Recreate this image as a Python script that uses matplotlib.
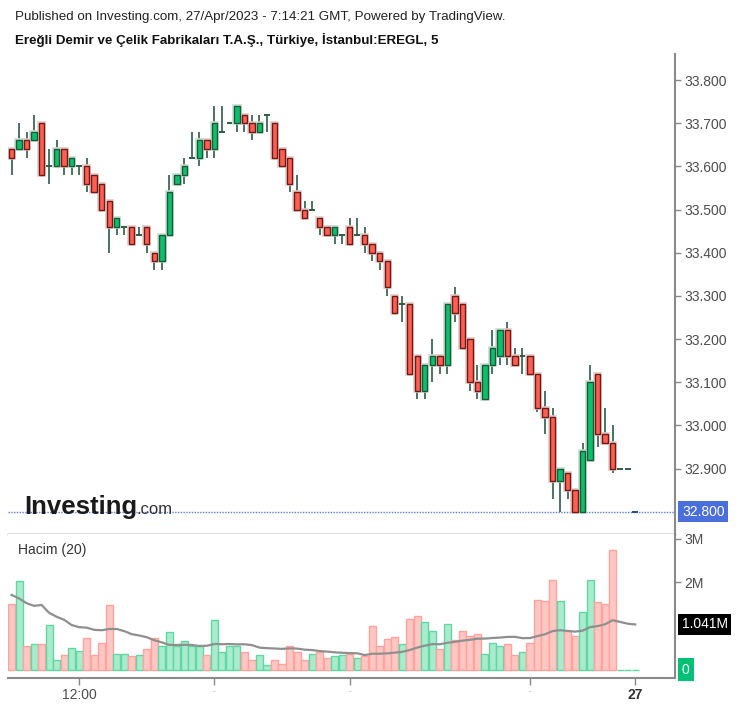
import matplotlib
matplotlib.use('Agg')
import matplotlib.pyplot as plt
import pandas as pd

plt.rcParams['font.family'] = ['Liberation Sans', 'DejaVu Sans']

# 5 dakikalik mumlar (acilis, yuksek, dusuk, kapanis)
opens = [33.64, 33.64, 33.66, 33.66, 33.70, 33.60, 33.60, 33.64, 33.60, 33.60,
         33.60, 33.58, 33.56, 33.52, 33.46, 33.46, 33.46, 33.44, 33.46, 33.40,
         33.38, 33.44, 33.56, 33.58, 33.62, 33.62, 33.66, 33.64, 33.68, 33.70,
         33.70, 33.72, 33.70, 33.68, 33.72, 33.70, 33.64, 33.62, 33.54, 33.50,
         33.50, 33.48, 33.46, 33.44, 33.44, 33.46, 33.44, 33.44, 33.42, 33.40,
         33.38, 33.30, 33.28, 33.28, 33.16, 33.08, 33.14, 33.16, 33.14, 33.30,
         33.28, 33.20, 33.10, 33.06, 33.14, 33.16, 33.22, 33.16, 33.16, 33.16,
         33.12, 33.04, 33.02, 32.87, 32.89, 32.85, 32.80, 32.92, 33.12, 32.98,
         32.96, 32.90, 32.90, 32.80]
highs = [33.64, 33.70, 33.68, 33.72, 33.70, 33.64, 33.66, 33.64, 33.62, 33.60,
         33.62, 33.58, 33.56, 33.52, 33.48, 33.46, 33.46, 33.46, 33.46, 33.40,
         33.44, 33.58, 33.58, 33.62, 33.68, 33.68, 33.66, 33.74, 33.74, 33.70,
         33.74, 33.72, 33.72, 33.72, 33.72, 33.70, 33.64, 33.62, 33.58, 33.52,
         33.52, 33.48, 33.46, 33.46, 33.44, 33.48, 33.48, 33.46, 33.42, 33.40,
         33.38, 33.30, 33.30, 33.28, 33.16, 33.14, 33.20, 33.16, 33.28, 33.32,
         33.28, 33.20, 33.14, 33.14, 33.22, 33.22, 33.24, 33.18, 33.18, 33.16,
         33.12, 33.08, 33.04, 32.90, 32.89, 32.85, 32.96, 33.14, 33.12, 33.04,
         33.00, 32.90, 32.90, 32.80]
lows = [33.58, 33.64, 33.62, 33.66, 33.58, 33.56, 33.60, 33.58, 33.58, 33.58,
        33.54, 33.54, 33.50, 33.40, 33.44, 33.44, 33.42, 33.44, 33.40, 33.36,
        33.36, 33.44, 33.56, 33.56, 33.62, 33.60, 33.62, 33.62, 33.68, 33.70,
        33.68, 33.68, 33.66, 33.68, 33.68, 33.62, 33.60, 33.54, 33.50, 33.48,
        33.50, 33.44, 33.44, 33.42, 33.42, 33.42, 33.44, 33.40, 33.38, 33.36,
        33.30, 33.26, 33.24, 33.12, 33.06, 33.06, 33.10, 33.12, 33.12, 33.24,
        33.18, 33.08, 33.06, 33.06, 33.12, 33.14, 33.14, 33.14, 33.12, 33.12,
        33.03, 32.98, 32.83, 32.80, 32.83, 32.80, 32.80, 32.92, 32.95, 32.96,
        32.89, 32.90, 32.90, 32.80]
closes = [33.62, 33.66, 33.64, 33.68, 33.58, 33.60, 33.64, 33.60, 33.62, 33.60,
          33.56, 33.54, 33.50, 33.46, 33.48, 33.46, 33.42, 33.44, 33.42, 33.38,
          33.44, 33.54, 33.58, 33.60, 33.62, 33.66, 33.64, 33.70, 33.68, 33.70,
          33.74, 33.70, 33.68, 33.70, 33.72, 33.62, 33.60, 33.56, 33.50, 33.48,
          33.50, 33.46, 33.44, 33.46, 33.44, 33.42, 33.44, 33.42, 33.40, 33.38,
          33.32, 33.26, 33.28, 33.12, 33.08, 33.14, 33.16, 33.14, 33.28, 33.26,
          33.18, 33.10, 33.08, 33.14, 33.18, 33.22, 33.16, 33.14, 33.16, 33.12,
          33.04, 33.02, 32.87, 32.90, 32.85, 32.80, 32.94, 33.10, 32.98, 32.96,
          32.90, 32.90, 32.90, 32.80]

# hacim (milyon)
volume = [1.51, 2.02, 0.55, 0.58, 0.58, 1.01, 0.22, 0.33, 0.50, 0.42,
          0.73, 0.33, 0.61, 1.48, 0.36, 0.36, 0.30, 0.33, 0.47, 0.73,
          0.53, 0.85, 0.53, 0.65, 0.53, 0.53, 0.33, 1.13, 0.39, 0.55,
          0.53, 0.39, 0.22, 0.33, 0.10, 0.22, 0.13, 0.55, 0.39, 0.22,
          0.36, 0.39, 0.27, 0.32, 0.33, 0.36, 0.27, 0.30, 0.99, 0.55,
          0.70, 0.74, 0.59, 1.16, 1.22, 1.08, 0.88, 0.47, 1.04, 0.68,
          0.88, 0.77, 0.81, 0.36, 0.61, 0.54, 0.58, 0.33, 0.39, 0.61,
          1.59, 1.57, 2.05, 1.57, 0.88, 0.77, 1.33, 2.05, 1.55, 1.50,
          2.74, 0.0, 0.0, 0.0]
# ortalamanin ilk 19 degeri (onceki gunun verisi yok)
ma_head = [1.71, 1.63, 1.52, 1.46, 1.48, 1.30, 1.21, 1.14, 1.02, 0.97,
           0.96, 0.91, 0.90, 0.93, 0.93, 0.88, 0.81, 0.78, 0.74]
ma_last = 1.041
last_price = 32.80

price_ticks = [32.9, 33.0, 33.1, 33.2, 33.3, 33.4, 33.5, 33.6, 33.7, 33.8]
x_tick_pos = [9, 27, 45, 69, 83]
x_tick_lab = ['12:00', '-', '-', '-', '27']

up_body, dn_body = '#0cbf6c', '#ff5f52'
up_edge, dn_edge = '#175c38', '#6e1a16'
wick_c = '#2d5c47'

W, H = 746, 707
fig = plt.figure(figsize=(W / 100, H / 100), dpi=100)


def box(x0, y0, x1, y1):
    return [x0 / W, 1 - y1 / H, (x1 - x0) / W, (y1 - y0) / H]


ax = fig.add_axes(box(8, 54, 675, 534))
axv = fig.add_axes(box(8, 534, 675, 678))

xs = list(range(len(opens)))
up = [c >= o for o, c in zip(opens, closes)]

# mumlar
ax.vlines(xs, lows, highs, color=wick_c, lw=1.2, zorder=2)
for i in xs:
    o, c = opens[i], closes[i]
    if abs(c - o) < 1e-9:
        col = '#2b4a7a' if i == len(xs) - 1 else wick_c
        ax.hlines(o, i - 0.38, i + 0.38, color=col, lw=1.4, zorder=3)
    else:
        # hafif golge
        ax.bar(i, abs(c - o), bottom=min(o, c), width=0.72, color='none',
               edgecolor='#e3c9c6' if not up[i] else '#c9dccf', lw=2.6, zorder=2.5)
        ax.bar(i, abs(c - o), bottom=min(o, c), width=0.72,
               color=up_body if up[i] else dn_body,
               edgecolor=up_edge if up[i] else dn_edge, lw=1.0, zorder=3)

ax.axhline(last_price, color='#5b7fe6', lw=1.0, ls=(0, (1, 1)), zorder=1)
ax.set_xlim(-0.47, 88.3)
ax.set_ylim(33.8 - 454 / 431.7, 33.8 + 26 / 431.7)
ax.yaxis.tick_right()
ax.set_yticks(price_ticks)
ax.set_yticklabels([f'{t:.3f}' for t in price_ticks])
ax.tick_params(axis='y', length=4, width=1, color='#888', labelsize=10,
               labelcolor='#4d4d4d', pad=3)
ax.set_xticks([])
for s in ['left', 'top']:
    ax.spines[s].set_visible(False)
ax.spines['right'].set_color('#8a8a8a')
ax.spines['right'].set_linewidth(1.5)
ax.spines['bottom'].set_color('#555555')
ax.spines['bottom'].set_linewidth(1.0)
ax.annotate(f'{last_price:.3f}', xy=(1, last_price), xycoords=('axes fraction', 'data'),
            xytext=(5, 0), textcoords='offset points', va='center', ha='left',
            fontsize=10, color='white',
            bbox=dict(boxstyle='square,pad=0.25', fc='#4a6fdc', ec='none'),
            annotation_clip=False)

# hacim
vcol = ['#a8ebcd' if u else '#ffc7c3' for u in up]
vedge = ['#5fd8a2' if u else '#ffa39c' for u in up]
axv.bar(xs, volume, width=0.94, color=vcol, edgecolor=vedge, lw=1.0, zorder=2)
ma = pd.Series(volume).rolling(20).mean()
ma[:len(ma_head)] = ma_head
axv.plot(xs, ma, color='#8f8f8f', lw=1.6, zorder=3)

axv.set_xlim(-0.47, 88.3)
axv.set_ylim(-8.5 / 43.6, (669.5 - 534) / 43.6)
axv.yaxis.tick_right()
axv.set_yticks([2, 3])
axv.set_yticklabels(['2M', '3M'])
axv.tick_params(axis='y', length=4, width=1, color='#888', labelsize=10,
                labelcolor='#4d4d4d', pad=3)
axv.set_xticks(x_tick_pos)
axv.set_xticklabels(x_tick_lab)
axv.tick_params(axis='x', length=5, width=1, color='#888', labelsize=10,
                labelcolor='#4d4d4d', pad=2)
for lab in axv.get_xticklabels():
    if lab.get_text() == '-':
        lab.set_fontsize(6)
        lab.set_color('#aaaaaa')
    elif lab.get_text() == '27':
        lab.set_fontweight('bold')
        lab.set_color('#333333')
for s in ['left', 'top']:
    axv.spines[s].set_visible(False)
for s in ['right', 'bottom']:
    axv.spines[s].set_color('#8a8a8a')
    axv.spines[s].set_linewidth(1.5)

axv.annotate(f'{ma_last:.3f}M', xy=(1, ma_last), xycoords=('axes fraction', 'data'),
             xytext=(5, 0), textcoords='offset points', va='center', ha='left',
             fontsize=10, color='white',
             bbox=dict(boxstyle='square,pad=0.25', fc='black', ec='none'),
             annotation_clip=False)
axv.annotate('0', xy=(1, 0), xycoords=('axes fraction', 'data'),
             xytext=(5, 0), textcoords='offset points', va='center', ha='left',
             fontsize=10, color='white',
             bbox=dict(boxstyle='square,pad=0.3', fc='#00c176', ec='none'),
             annotation_clip=False)
axv.text(10 / 667, (678 - 550) / 144, 'Hacim (20)', transform=axv.transAxes,
         fontsize=10, color='#333333', va='center', ha='left')

# basliklar
fig.text(15 / W, 1 - 17 / H,
         'Published on Investing.com, 27/Apr/2023 - 7:14:21 GMT, Powered by TradingView.',
         fontsize=9.6, color='#222222', va='center', ha='left')
fig.text(15 / W, 1 - 40 / H,
         'Ereğli Demir ve Çelik Fabrikaları T.A.Ş., Türkiye, İstanbul:EREGL, 5',
         fontsize=9.6, fontweight='bold', color='#111111', va='center', ha='left')

# logo
fig.text(24 / W, 1 - 507 / H, 'Investing', fontsize=18.5, fontweight='bold',
         color='#1a1a1a', va='center', ha='left')
fig.text(137 / W, 1 - 509 / H, '.com', fontsize=12, color='#333333',
         va='center', ha='left')

fig.savefig('out.png', dpi=100)
